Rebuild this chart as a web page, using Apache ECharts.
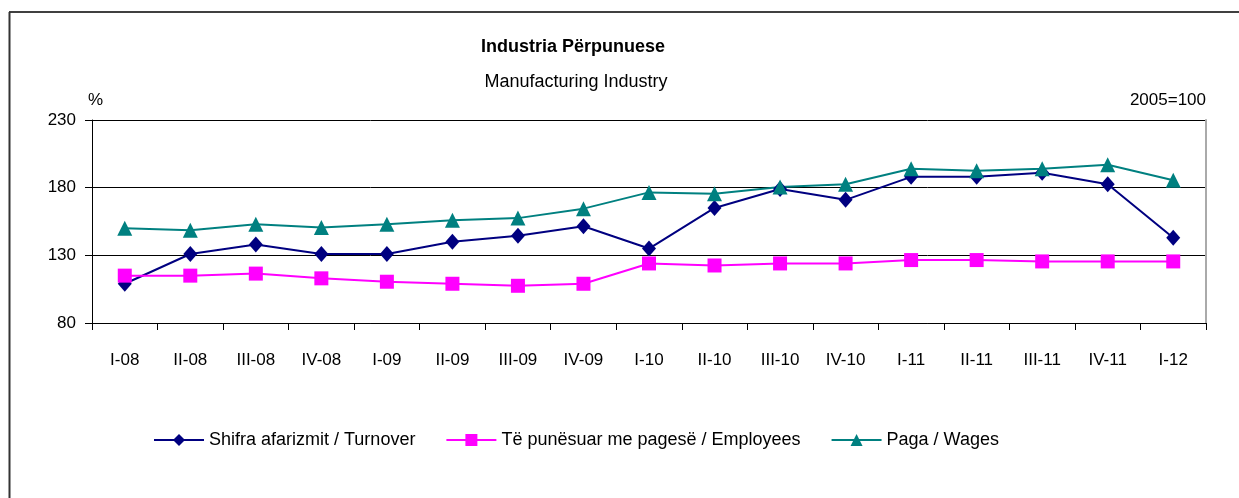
<!DOCTYPE html>
<html>
<head>
<meta charset="utf-8">
<script src="https://cdn.jsdelivr.net/npm/echarts@6/dist/echarts.min.js"></script>
<style>
  html, body { margin: 0; padding: 0; background: #fff; }
  #chart { width: 1239px; height: 498px; }
</style>
</head>
<body>
<div id="chart"></div>
<script>
// quarters on the x axis
var quarters = ['I-08', 'II-08', 'III-08', 'IV-08', 'I-09', 'II-09', 'III-09', 'IV-09',
  'I-10', 'II-10', 'III-10', 'IV-10', 'I-11', 'II-11', 'III-11', 'IV-11', 'I-12']
// index values, 2005=100
var turnover = [109, 131, 138, 131, 131, 140, 144.5, 151.5, 135, 165, 179, 171, 188, 188, 191, 182.5, 143]
var employees = [115, 115, 116.5, 113, 110.5, 109, 107.5, 109, 124, 122.5, 124, 124, 126.5, 126.5, 125.5, 125.5, 125.5]
var wages = [150, 148.5, 153, 150.5, 153, 156, 157.5, 164.5, 176.5, 175.5, 180.5, 182.5, 194, 192.5, 194, 197, 185.5]
var names = ['Shifra afarizmit / Turnover', 'Të punësuar me pagesë / Employees', 'Paga / Wages']
var yTicks = { min: 80, max: 230, step: 50 }

var font = '"Liberation Sans", Arial, sans-serif'
var chart = echarts.init(document.getElementById('chart'))

function lineSeries(name, data, color, symbol, size) {
  return {
    name: name,
    type: 'line',
    data: data,
    symbol: symbol,
    symbolSize: size,
    showAllSymbol: true,
    lineStyle: { color: color, width: 2 },
    itemStyle: { color: color },
    emphasis: { disabled: true },
    z: 3
  }
}

chart.setOption({
  animation: false,
  backgroundColor: '#fff',
  textStyle: { fontFamily: font },
  title: [
    { text: 'Industria Përpunuese', left: 568, top: 33, textAlign: 'center',
      textStyle: { fontSize: 18, fontWeight: 'bold', color: '#000', fontFamily: font } },
    { text: 'Manufacturing Industry', left: 571, top: 68, textAlign: 'center',
      textStyle: { fontSize: 18, fontWeight: 'normal', color: '#000', fontFamily: font } },
    { text: '%', left: 83, top: 87,
      textStyle: { fontSize: 17, fontWeight: 'normal', color: '#000', fontFamily: font } },
    { text: '2005=100', right: 28, top: 87,
      textStyle: { fontSize: 17, fontWeight: 'normal', color: '#000', fontFamily: font } }
  ],
  legend: {
    left: 148,
    top: 426,
    itemGap: 30,
    itemWidth: 50,
    itemHeight: 15,
    data: names,
    textStyle: { fontSize: 18, color: '#000', fontFamily: font }
  },
  grid: { left: 92, right: 33, top: 120, bottom: 175 },
  xAxis: {
    type: 'category',
    data: quarters,
    boundaryGap: true,
    axisLine: { lineStyle: { color: '#000', width: 1 } },
    axisTick: { show: true, length: 7, inside: false, lineStyle: { color: '#000' } },
    axisLabel: { color: '#000', fontSize: 17, margin: 29, fontFamily: font, interval: 0 },
    splitLine: { show: false }
  },
  yAxis: [
    {
      type: 'value',
      min: yTicks.min,
      max: yTicks.max,
      interval: yTicks.step,
      axisLine: { show: true, lineStyle: { color: '#000' } },
      axisTick: { show: true, length: 7, lineStyle: { color: '#000' } },
      axisLabel: { color: '#000', fontSize: 17, margin: 16, fontFamily: font },
      splitLine: { show: true, lineStyle: { color: '#000', width: 1 } }
    },
    {
      type: 'value',
      position: 'right',
      min: yTicks.min,
      max: yTicks.max,
      interval: yTicks.step,
      axisLine: { show: true, lineStyle: { color: '#aaa', width: 2 } },
      axisTick: { show: false },
      axisLabel: { show: false },
      splitLine: { show: false }
    }
  ],
  graphic: [
    { type: 'line', shape: { x1: 9, y1: 12, x2: 1239, y2: 12 }, style: { stroke: '#000', lineWidth: 1.5 } },
    { type: 'line', shape: { x1: 9.5, y1: 12, x2: 9.5, y2: 498 }, style: { stroke: '#333', lineWidth: 2 } }
  ],
  series: [
    lineSeries(names[0], turnover, '#000080', 'diamond', [14, 16]),
    lineSeries(names[1], employees, '#FF00FF', 'rect', 14),
    lineSeries(names[2], wages, '#008080', 'triangle', 15)
  ]
})
</script>
</body>
</html>
